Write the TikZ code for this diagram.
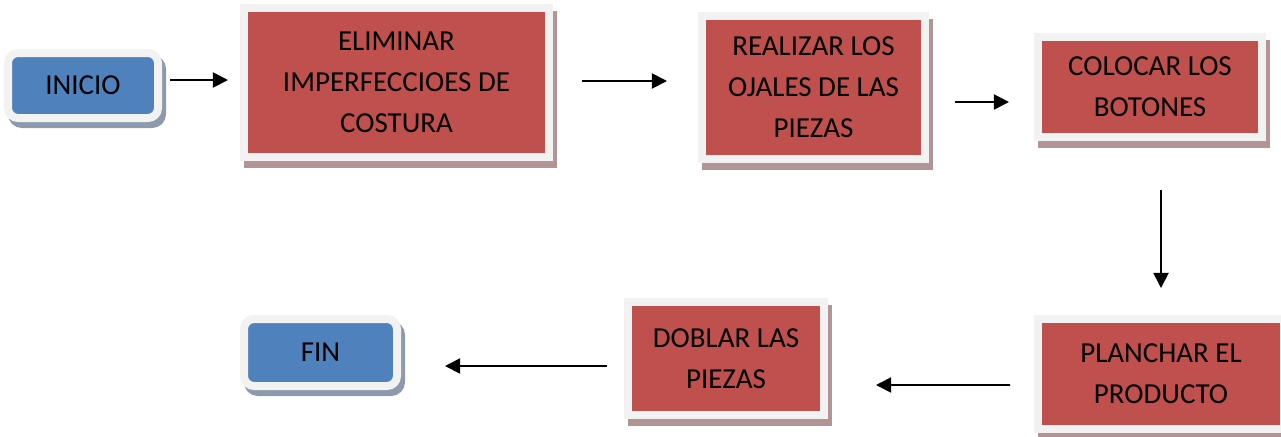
\documentclass[tikz,border=0pt]{standalone}
\usepackage{fontspec}
\setmainfont{Carlito}
\usetikzlibrary{positioning, arrows.meta}
\definecolor{rojo}{HTML}{C0504D}
\definecolor{azul}{HTML}{4F81BD}
\definecolor{marco}{HTML}{F2F2F2}
\definecolor{sombrarojo}{HTML}{B39494}
\definecolor{sombraazul}{HTML}{8D9AAE}

\begin{document}
\begin{tikzpicture}[x=0.025cm, y=-0.025cm,
  caja/.style={draw=marco, line width=0.2cm, inner sep=0pt, align=center, font=\fontsize{20.6}{29.2}\selectfont},
  paso/.style 2 args={caja, fill=rojo, minimum width=#1*0.025cm, minimum height=#2*0.025cm, preaction={fill=sombrarojo, draw=sombrarojo, transform canvas={shift={(4,7)}}}},
  limite/.style 2 args={caja, fill=azul, rounded corners=0.25cm, minimum width=#1*0.025cm, minimum height=#2*0.025cm, preaction={fill=sombraazul, draw=sombraazul, transform canvas={shift={(4,6)}}}},
  flecha/.style={-{Triangle[length=0.38cm, width=0.38cm]}, line width=1.3pt}]
  \path[use as bounding box, clip] (0,0) rectangle (1281,436);

  \node[limite={150}{65}] (inicio) at (83,85.5) {INICIO};
  \node[paso={305}{149}] (eliminar) at (396.5,82.5) {ELIMINAR\\IMPERFECCIOES DE\\COSTURA};
  \node[paso={223}{143}] (realizar) at (813.5,87.5) {REALIZAR LOS\\OJALES DE LAS\\PIEZAS};
  \node[paso={224}{100}] (colocar) at (1150,87) {COLOCAR LOS\\BOTONES};

  \node[paso={246}{110}] (planchar) at (1161,374) {PLANCHAR EL\\PRODUCTO};
  \node[paso={196}{113}] (doblar) at (726,358.5) {DOBLAR LAS\\PIEZAS};
  \node[limite={153}{67}] (fin) at (320.5,352.5) {FIN};

  \draw[flecha] ([shift={(8,-5.5)}]inicio.east) -- ([shift={(-12,-2.5)}]eliminar.west);
  \draw[flecha] ([shift={(29,-1.5)}]eliminar.east) -- ([shift={(-31,-6.5)}]realizar.west);
  \draw[flecha] ([shift={(26,14.5)}]realizar.east) -- ([shift={(-25,15)}]colocar.west);
  \draw[flecha] ([shift={(11,49)}]colocar.south) -- ([shift={(0,-27)}]planchar.north);
  \draw[flecha] ([shift={(-24,11)}]planchar.west) -- ([shift={(48,26.5)}]doblar.east);
  \draw[flecha] ([shift={(-17,7.5)}]doblar.west) -- ([shift={(44,13.5)}]fin.east);
\end{tikzpicture}
\end{document}
